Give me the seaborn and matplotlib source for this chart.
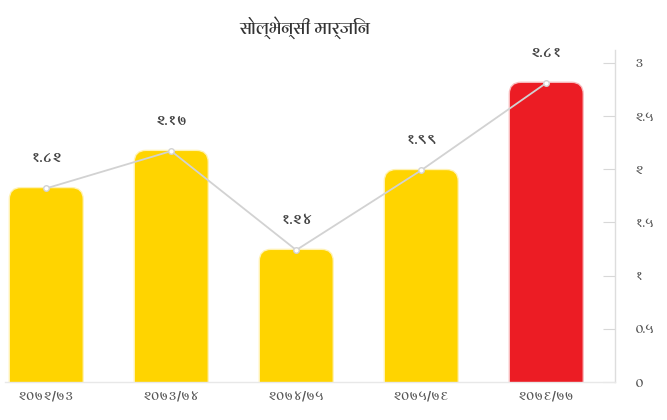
import matplotlib
matplotlib.use("Agg")
import matplotlib.pyplot as plt
from matplotlib import font_manager
from matplotlib.font_manager import FontProperties
from matplotlib.patches import FancyBboxPatch
import seaborn as sns

# Data
categories = ["२०७२/७३", "२०७३/७४", "२०७४/७५", "२०७५/७६", "२०७६/७७"]
values = [1.82, 2.17, 1.24, 1.99, 2.81]
value_labels = ["१.८२", "२.१७", "१.२४", "१.९९", "२.८१"]
bar_colors = ["#FFD400", "#FFD400", "#FFD400", "#FFD400", "#EC1C24"]
ytick_values = [0, 0.5, 1, 1.5, 2, 2.5, 3]
ytick_labels = ["०", "०.५", "१", "१.५", "२", "२.५", "३"]
title = "सोल्भेन्सी मार्जिन"


def devanagari_fonts():
    """Installed font entries that cover Devanagari letters and digits."""
    found = []
    try:
        from fontTools.ttLib import TTFont
    except Exception:
        return found
    for f in font_manager.fontManager.ttflist:
        try:
            kw = {"fontNumber": 0} if f.fname.lower().endswith(".ttc") else {}
            tt = TTFont(f.fname, lazy=True, **kw)
            cmap = tt.getBestCmap() or {}
            if ord("स") in cmap and ord("२") in cmap:
                found.append(f)
        except Exception:
            continue
    return found


def pick(entries, target_weight):
    def wnum(e):
        w = e.weight
        if isinstance(w, str):
            w = {"ultralight": 200, "light": 300, "normal": 400, "regular": 400,
                 "book": 400, "medium": 500, "semibold": 600, "demibold": 600,
                 "bold": 700, "heavy": 800, "black": 900}.get(w.lower(), 400)
        return w
    cands = [e for e in entries if e.style == "normal" and e.stretch in ("normal", 500)]
    if not cands:
        cands = entries
    if not cands:
        return None
    best = min(cands, key=lambda e: (abs(wnum(e) - target_weight), len(e.name)))
    return FontProperties(fname=best.fname)


sns.set_theme(style="white")
deva = devanagari_fonts()
fp_reg = pick(deva, 400) or FontProperties(family="DejaVu Sans")
fp_bold = pick(deva, 700) or FontProperties(family="DejaVu Sans", weight="bold")
plt.rcParams["font.family"] = ["DejaVu Sans"]

fig = plt.figure(figsize=(6.67, 4.2), dpi=100)
# axes in pixels: left 5, right 615, bottom 382, top 50
ax = fig.add_axes([5 / 667, 38 / 420, 610 / 667, 332 / 420])

sns.barplot(x=categories, y=values, hue=categories, palette=bar_colors,
            legend=False, width=0.58, ax=ax, saturation=1)

ax.set_xlim(-0.33, 4.55)
ax.set_ylim(0, 3.12)

# rounded tops for the bars
px_x = 610 / 4.88
px_y = 332 / 3.12
radius_px = 11
for patch in list(ax.patches):
    x0 = patch.get_x()
    w = patch.get_width()
    h = patch.get_height()
    col = patch.get_facecolor()
    patch.set_visible(False)
    ext = 0.3
    style = f"round,pad=0,rounding_size={radius_px / px_x}"
    glow = FancyBboxPatch((x0, -ext), w, h + ext, boxstyle=style,
                          mutation_aspect=px_x / px_y,
                          facecolor=col, edgecolor=col, linewidth=2.0,
                          alpha=0.3, zorder=1, clip_on=True)
    ax.add_patch(glow)
    rb = FancyBboxPatch((x0, -ext), w, h + ext, boxstyle=style,
                        mutation_aspect=px_x / px_y,
                        facecolor=col, edgecolor="none", zorder=2, clip_on=True)
    ax.add_patch(rb)

# trend line across the bar tops
ax.plot(range(len(values)), values, color="#d2d2d2", linewidth=1.3,
        marker="o", markersize=4, markerfacecolor="white",
        markeredgecolor="#d2d2d2", zorder=3)

# value labels
for i, (v, lab) in enumerate(zip(values, value_labels)):
    ax.annotate(lab, (i, v), xytext=(0, 21), textcoords="offset points",
                ha="center", va="center", fontproperties=fp_bold,
                fontsize=10.5, color="#444444", zorder=4)

# right-hand value axis
ax.yaxis.tick_right()
ax.set_yticks(ytick_values)
ax.set_yticklabels(ytick_labels)
ax.tick_params(axis="y", direction="in", length=9, width=0.8, color="#d8d8d8",
               labelsize=9, labelcolor="#555555", pad=14)
for lab in ax.get_yticklabels():
    lab.set_horizontalalignment("left")
    lab.set_fontproperties(fp_reg)
    lab.set_fontsize(9.5)
ax.tick_params(axis="x", length=0, labelsize=9, labelcolor="#555555", pad=6)
for lab in ax.get_xticklabels():
    lab.set_fontproperties(fp_reg)
    lab.set_fontsize(9.5)
ax.set_xlabel("")
ax.set_ylabel("")

for side in ["top", "left"]:
    ax.spines[side].set_visible(False)
ax.spines["right"].set_color("#dddddd")
ax.spines["bottom"].set_color("#e8e8e8")
ax.spines["right"].set_linewidth(1.0)
ax.spines["bottom"].set_linewidth(1.0)

fig.text(305 / 667, 1 - 28 / 420, title, ha="center", va="center",
         fontproperties=fp_reg, fontsize=13, color="#333333")

fig.savefig("out.png", dpi=100)
